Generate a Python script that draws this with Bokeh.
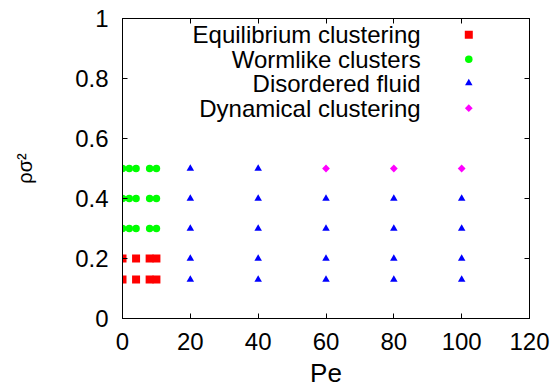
import numpy as np
from bokeh.plotting import figure
from bokeh.models import Range1d, FixedTicker, LinearAxis, CustomJSTickFormatter
from bokeh.core.properties import value
from bokeh.embed import file_html
from bokeh.resources import INLINE

# ---- data ----
equil_pe = [0, 4, 8, 10, 0, 4, 8, 10]
equil_rho = [0.13, 0.13, 0.13, 0.13, 0.2, 0.2, 0.2, 0.2]

worm_pe = [0, 2, 4, 8, 10, 0, 2, 4, 8, 10, 0, 2, 4, 8, 10]
worm_rho = [0.3, 0.3, 0.3, 0.3, 0.3, 0.4, 0.4, 0.4, 0.4, 0.4, 0.5, 0.5, 0.5, 0.5, 0.5]

fluid_pe = [20, 40, 60, 80, 100, 20, 40, 60, 80, 100, 20, 40, 60, 80, 100,
            20, 40, 60, 80, 100, 20, 40]
fluid_rho = [0.13, 0.13, 0.13, 0.13, 0.13, 0.2, 0.2, 0.2, 0.2, 0.2,
             0.3, 0.3, 0.3, 0.3, 0.3, 0.4, 0.4, 0.4, 0.4, 0.4, 0.5, 0.5]

dyn_pe = [60, 80, 100]
dyn_rho = [0.5, 0.5, 0.5]

legend_labels = ["Equilibrium clustering", "Wormlike clusters",
                 "Disordered fluid", "Dynamical clustering"]

x_ticks = [0, 20, 40, 60, 80, 100, 120]
y_ticks = [0, 0.2, 0.4, 0.6, 0.8, 1]

FONT = "Liberation Sans"
RED, GREEN, BLUE, MAGENTA = "#ff0000", "#00ff00", "#0000ff", "#ff00ff"

p = figure(width=553, height=390, output_backend="svg", toolbar_location=None,
           x_range=Range1d(0, 120), y_range=Range1d(0, 1),
           min_border_left=122, min_border_right=24, min_border_top=18,
           min_border_bottom=72)
p.xgrid.visible = False
p.ygrid.visible = False
p.outline_line_color = "black"
p.outline_line_width = 1
p.background_fill_color = "white"
p.border_fill_color = "white"

fmt = CustomJSTickFormatter(code="return tick.toString()")
blank = CustomJSTickFormatter(code="return ''")

for ax in (p.xaxis[0], p.yaxis[0]):
    ax.major_tick_in = 5
    ax.major_tick_out = 0
    ax.minor_tick_line_color = None
    ax.axis_line_color = "black"
    ax.major_tick_line_color = "black"
    ax.major_label_text_font = FONT
    ax.major_label_text_font_size = "24px"
    ax.major_label_text_color = "black"
    ax.axis_label_text_font = FONT
    ax.axis_label_text_font_style = "normal"
    ax.axis_label_text_color = "black"

p.xaxis[0].ticker = FixedTicker(ticks=x_ticks)
p.yaxis[0].ticker = FixedTicker(ticks=y_ticks)
p.xaxis[0].formatter = fmt
p.yaxis[0].formatter = fmt
p.xaxis[0].major_label_standoff = 14
p.yaxis[0].major_label_standoff = 14
p.xaxis[0].axis_label = "Pe"
p.xaxis[0].axis_label_text_font_size = "26px"
p.xaxis[0].axis_label_standoff = 5
p.yaxis[0].axis_label = "ρσ²"
p.yaxis[0].axis_label_text_font_size = "20px"
p.yaxis[0].axis_label_standoff = 36

# mirror ticks on top and right
top = LinearAxis(ticker=FixedTicker(ticks=x_ticks), formatter=blank)
right = LinearAxis(ticker=FixedTicker(ticks=y_ticks), formatter=blank)
for ax in (top, right):
    ax.major_tick_in = 5
    ax.major_tick_out = 0
    ax.minor_tick_line_color = None
    ax.major_label_standoff = 0
    ax.major_label_text_font_size = "10px"
    ax.axis_line_color = "black"
p.add_layout(top, "above")
p.add_layout(right, "right")

# data
p.scatter(equil_pe, equil_rho, marker="square", size=8, fill_color=RED, line_color=None)
p.scatter(worm_pe, worm_rho, marker="circle", size=7.5, fill_color=GREEN, line_color=None)
p.scatter(fluid_pe, fluid_rho, marker="triangle", size=7.5, fill_color=BLUE, line_color=None)
p.scatter(dyn_pe, dyn_rho, marker="square", angle=np.pi / 4, size=5.5,
          fill_color=MAGENTA, line_color=None)

# manual legend (text right-aligned, marker to the right)
leg_y = [0.946, 0.864, 0.785, 0.701]
leg_text_x = [87.9] * 4
leg_mark_x = 102.1
p.text(x=leg_text_x, y=leg_y, text=legend_labels, text_font=value(FONT),
       text_font_size="24px", text_align="right", text_baseline="middle",
       text_color="black")
p.scatter([leg_mark_x], [leg_y[0]], marker="square", size=8, fill_color=RED, line_color=None)
p.scatter([leg_mark_x], [leg_y[1]], marker="circle", size=7.5, fill_color=GREEN, line_color=None)
p.scatter([leg_mark_x], [leg_y[2]], marker="triangle", size=7.5, fill_color=BLUE, line_color=None)
p.scatter([leg_mark_x], [leg_y[3]], marker="square", angle=np.pi / 4, size=5.5,
          fill_color=MAGENTA, line_color=None)

open("out.html", "w").write(file_html(p, INLINE))
